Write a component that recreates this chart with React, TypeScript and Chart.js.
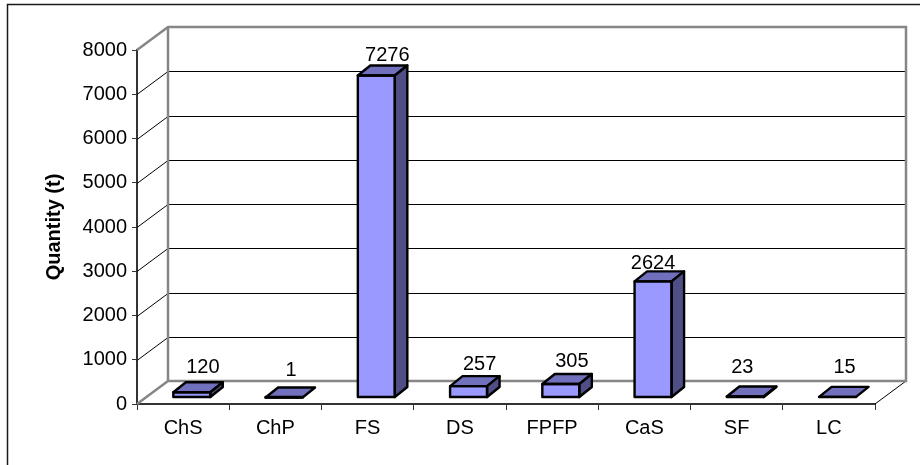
import React, { useEffect, useRef } from "react";
import { Chart, registerables } from "chart.js";

Chart.register(...registerables);

const categories = ["ChS", "ChP", "FS", "DS", "FPFP", "CaS", "SF", "LC"];
const quantities = [120, 1, 7276, 257, 305, 2624, 23, 15];
const yTicks = [0, 1000, 2000, 3000, 4000, 5000, 6000, 7000, 8000];

const FONT = '"Liberation Sans", Arial, sans-serif';
const labelNudgeX = [11, 7, 11, 11, 11, 0, -3, 7];
const labelNudgeY = [25, 27, 20, 22, 23, 18, 29, 29];

const chart3d = {
  id: "chart3d",
  beforeDraw(chart: any) {
    const { ctx, width, height } = chart;
    ctx.save();
    ctx.strokeStyle = "#1a1a1a";
    ctx.lineWidth = 1.5;
    ctx.beginPath();
    ctx.moveTo(width, 4.5);
    ctx.lineTo(7.5, 4.5);
    ctx.lineTo(7.5, height);
    ctx.stroke();
    ctx.restore();
  },
  beforeDatasetsDraw(chart: any) {
    const { ctx, chartArea, scales } = chart;
    const { dx, dy } = chart.options.plugins.chart3d;
    const y = scales.y;
    const l = chartArea.left;
    const r = chartArea.right;
    const bottom = y.getPixelForValue(0);
    ctx.save();
    ctx.strokeStyle = "#000";
    ctx.lineWidth = 1;
    yTicks.slice(1, -1).forEach((v) => {
      const py = Math.round(y.getPixelForValue(v)) + 0.5;
      ctx.beginPath();
      ctx.moveTo(l, py);
      ctx.lineTo(l + dx, py - dy);
      ctx.lineTo(r + dx, py - dy);
      ctx.stroke();
    });
    ctx.beginPath();
    ctx.moveTo(r, bottom);
    ctx.lineTo(r + dx, bottom - dy);
    ctx.stroke();
    ctx.strokeStyle = "#868686";
    ctx.lineWidth = 2.5;
    const top = y.getPixelForValue(8000);
    ctx.beginPath();
    ctx.moveTo(l, top);
    ctx.lineTo(l + dx, top - dy);
    ctx.lineTo(r + dx, top - dy);
    ctx.lineTo(r + dx, bottom - dy);
    ctx.lineTo(l + dx, bottom - dy);
    ctx.lineTo(l, bottom);
    ctx.moveTo(l + dx, top - dy);
    ctx.lineTo(l + dx, bottom - dy);
    ctx.stroke();
    ctx.restore();
  },
  beforeDatasetDraw(chart: any) {
    const { barShiftX, barShiftY } = chart.options.plugins.chart3d;
    chart.ctx.save();
    chart.ctx.translate(barShiftX, -barShiftY);
  },
  afterDatasetDraw(chart: any) {
    const { ctx } = chart;
    const { barDx, barDy } = chart.options.plugins.chart3d;
    const meta = chart.getDatasetMeta(0);
    meta.data.forEach((bar: any) => {
      const half = bar.width / 2;
      const x0 = bar.x - half;
      const x1 = bar.x + half;
      const top = bar.y;
      const base = bar.base;
      ctx.lineJoin = "round";
      ctx.lineWidth = 2.4;
      ctx.strokeStyle = "#000";
      ctx.fillStyle = "#7070bd";
      ctx.beginPath();
      ctx.moveTo(x0, top);
      ctx.lineTo(x0 + barDx, top - barDy);
      ctx.lineTo(x1 + barDx, top - barDy);
      ctx.lineTo(x1, top);
      ctx.closePath();
      ctx.fill();
      ctx.stroke();
      if (base - top > 0.5) {
        ctx.fillStyle = "#4f4f85";
        ctx.beginPath();
        ctx.moveTo(x1, top);
        ctx.lineTo(x1 + barDx, top - barDy);
        ctx.lineTo(x1 + barDx, base - barDy);
        ctx.lineTo(x1, base);
        ctx.closePath();
        ctx.fill();
        ctx.stroke();
      }
      ctx.strokeRect(x0, top, x1 - x0, base - top);
    });
    ctx.restore();
  },
  afterDatasetsDraw(chart: any) {
    const { ctx } = chart;
    const { barShiftX, barShiftY } = chart.options.plugins.chart3d;
    const meta = chart.getDatasetMeta(0);
    ctx.save();
    ctx.font = `20px ${FONT}`;
    ctx.fillStyle = "#000";
    ctx.textAlign = "center";
    ctx.textBaseline = "middle";
    meta.data.forEach((bar: any, i: number) => {
      ctx.fillText(
        String(quantities[i]),
        bar.x + barShiftX + labelNudgeX[i],
        bar.y - barShiftY - labelNudgeY[i]
      );
    });
    ctx.restore();
  },
};

export default function App() {
  const ref = useRef<HTMLCanvasElement>(null);
  useEffect(() => {
    const chart = new Chart(ref.current!, {
      type: "bar",
      data: {
        labels: categories,
        datasets: [
          {
            data: quantities,
            backgroundColor: "#9999ff",
            borderWidth: 0,
            barThickness: 37,
          },
        ],
      },
      plugins: [chart3d],
      options: {
        responsive: false,
        animation: false,
        layout: { padding: { top: 50, right: 45, left: 0, bottom: 0 } },
        plugins: {
          legend: { display: false },
          title: { display: false },
          tooltip: { enabled: false },
          chart3d: { dx: 31, dy: 23, barShiftX: 8.7, barShiftY: 6.5, barDx: 12.5, barDy: 10 },
        } as any,
        scales: {
          x: {
            offset: true,
            afterFit: (s: any) => {
              s.height = 61;
            },
            border: { color: "#333", width: 2 },
            grid: { display: true, drawOnChartArea: false, drawTicks: true, tickLength: 6, color: "#333", offset: true },
            ticks: { color: "#000", font: { family: FONT, size: 20 }, padding: 6, maxRotation: 0, autoSkip: false },
          },
          y: {
            min: 0,
            max: 8000,
            afterFit: (s: any) => {
              s.width = 137;
            },
            afterBuildTicks: (s: any) => {
              s.ticks = yTicks.map((value) => ({ value }));
            },
            border: { color: "#333", width: 2 },
            grid: { display: true, drawOnChartArea: false, drawTicks: true, tickLength: 5, color: "#333" },
            ticks: { color: "#000", font: { family: FONT, size: 20 }, padding: 5, callback: (v: any) => String(v) },
            title: {
              display: true,
              text: "Quantity (t)",
              color: "#000",
              font: { family: FONT, size: 20, weight: "bold" },
              padding: { top: 42, bottom: 0 },
            },
          },
        },
      },
    } as any);
    return () => chart.destroy();
  }, []);
  return (
    <canvas
      ref={ref}
      width={920}
      height={465}
      style={{ position: "fixed", left: 0, top: 0, width: 920, height: 465, display: "block" }}
    />
  );
}
